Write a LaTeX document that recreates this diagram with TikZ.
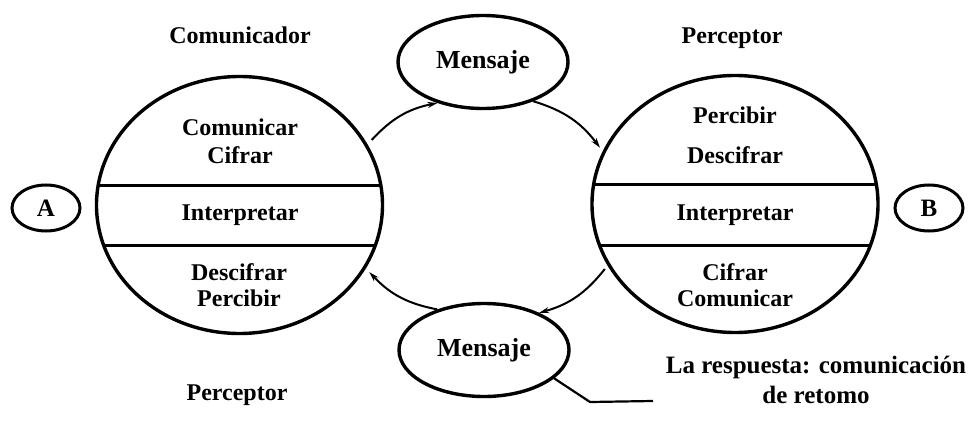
\documentclass[tikz,border=0pt]{standalone}
\usepackage{fontspec}
\setmainfont{Liberation Serif}
\usetikzlibrary{shapes.geometric,arrows.meta}
\begin{document}
\begin{tikzpicture}[x=1pt,y=-1pt,
  lbl/.style={font=\fontsize{24}{28}\selectfont\bfseries, inner sep=0pt},
  bigc/.style={draw, line width=3.4pt, ellipse, minimum width=286pt, minimum height=257pt, inner sep=0pt},
  smallc/.style={draw, line width=3pt, ellipse, minimum width=68pt, minimum height=46pt, inner sep=0pt, font=\fontsize{25}{27}\selectfont\bfseries},
  msg/.style={draw, line width=3.4pt, ellipse, minimum width=170pt, minimum height=93pt, inner sep=0pt, font=\fontsize{26}{28}\selectfont\bfseries},
  flow/.style={line width=2pt, -{Stealth[length=10pt,width=6pt]}, bend left=18},
  divider/.style={line width=3pt}]
\useasboundingbox (0,0) rectangle (977,425);

% big circles
\node[bigc] (L) at (239.5,205) {};
\node[bigc] (R) at (735,204) {};
\begin{scope}
  \clip (239.5,205) ellipse [x radius=143, y radius=128.5];
  \draw[divider] (90,185) -- (390,185);
  \draw[divider] (90,245) -- (390,245);
\end{scope}
\begin{scope}
  \clip (735,204) ellipse [x radius=143, y radius=128.5];
  \draw[divider] (585,184) -- (885,184);
  \draw[divider] (585,245) -- (885,245);
\end{scope}

% small circles
\node[smallc] (A) at (46,208) {A};
\node[smallc] (B) at (929,208) {B};

% message ellipses
\node[msg] (M1) at (483,62) {Mensaje};
\node[msg] (M2) at (484,350) {Mensaje};

% labels
\node[lbl] (t1) at (240,35) {Comunicador};
\node[lbl] (t2) at (732,38) {Perceptor};
\node[lbl] (t3) at (237,395) {Perceptor};

\node[lbl] (l1) at (240,127) {Comunicar};
\node[lbl] (l2) at (240,155) {Cifrar};
\node[lbl] (l3) at (240,215) {Interpretar};
\node[lbl] (l4) at (239,272) {Descifrar};
\node[lbl] (l5) at (239,298) {Percibir};

\node[lbl] (r1) at (735,115) {Percibir};
\node[lbl] (r2) at (735,155) {Descifrar};
\node[lbl] (r3) at (735,215) {Interpretar};
\node[lbl] (r4) at (735,272) {Cifrar};
\node[lbl] (r5) at (735,298) {Comunicar};

\node[lbl, align=center, font=\fontsize{25}{30}\selectfont\bfseries] (resp) at (816,380) {La respuesta: comunicación\\de retomo};

% flow arrows
\draw[flow] ([shift={(5,-3)}]L.26) to (M1.222);
\draw[flow] (M1.-38) to ([shift={(-3,-3)}]R.158);
\draw[flow] ([shift={(-3,3)}]R.206) to (M2.34);
\draw[flow] (M2.139) to ([shift={(4,3)}]L.-27);

% callout
\coordinate (c1) at (590,402);
\coordinate (c2) at (653,401);
\draw[line width=2.2pt] (M2.-22) -- (c1) -- (c2);
\end{tikzpicture}
\end{document}
